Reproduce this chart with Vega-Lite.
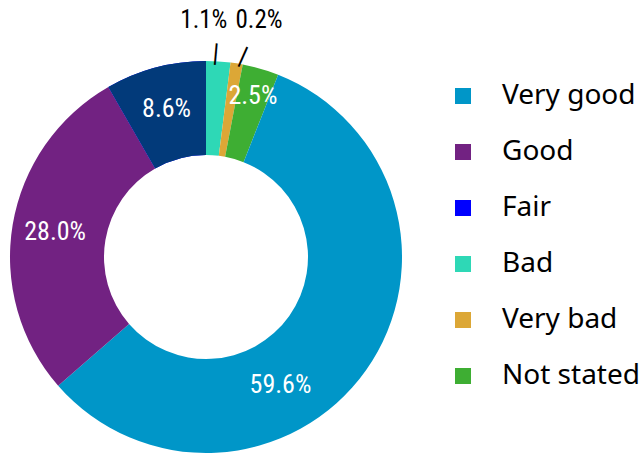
{
  "$schema": "https://vega.github.io/schema/vega-lite/v6.json",
  "width": 412,
  "height": 400,
  "autosize": "none",
  "padding": {"left": 0, "top": 57, "right": 228, "bottom": 0},
  "background": "white",
  "config": {"view": {"stroke": null}},
  "data": {"values": [
    {"cat": "Bad", "pct": 0.011, "share": 2.0},
    {"cat": "Very bad", "pct": 0.002, "share": 1.0},
    {"cat": "Not stated", "pct": 0.025, "share": 3.0},
    {"cat": "Very good", "pct": 0.596, "share": 57.6},
    {"cat": "Good", "pct": 0.28, "share": 28.1},
    {"cat": "Fair", "pct": 0.086, "share": 8.3}
  ]},
  "transform": [{"window": [{"op": "row_number", "as": "seq"}]}],
  "encoding": {
    "theta": {"field": "share", "type": "quantitative", "stack": true},
    "order": {"field": "seq", "type": "quantitative"}
  },
  "layer": [
    {
      "mark": {"type": "arc", "radius": 196, "radius2": 102},
      "encoding": {
        "color": {
          "field": "cat", "type": "nominal",
          "scale": {
            "domain": ["Very good", "Good", "Fair", "Bad", "Very bad", "Not stated"],
            "range": ["#0096c8", "#722282", "#0000ff", "#2ed8b6", "#dca736", "#3eae33"]
          },
          "legend": {
            "title": null,
            "orient": "none",
            "legendX": 449,
            "legendY": 25,
            "padding": 0,
            "symbolType": "square",
            "symbolSize": 256,
            "symbolStrokeWidth": 0,
            "labelFont": "Noto Sans",
            "labelFontSize": 28,
            "labelColor": "#000000",
            "labelOffset": 25,
            "rowPadding": 28
          }
        }
      }
    },
    {
      "mark": {"type": "arc", "radius": 196, "radius2": 102, "fill": "#023a7a"},
      "encoding": {
        "opacity": {"condition": {"test": "datum.cat === 'Fair'", "value": 1}, "value": 0}
      }
    },
    {
      "mark": {"type": "text", "radius": 153, "font": "Noto Sans Condensed, Roboto Condensed, Roboto", "fontSize": 26, "fill": "white"},
      "encoding": {
        "text": {"field": "pct", "type": "quantitative", "format": ".1%"},
        "opacity": {"condition": {"test": "datum.cat === 'Good' || datum.cat === 'Fair'", "value": 1}, "value": 0}
      }
    },
    {
      "mark": {"type": "text", "radius": 168, "font": "Noto Sans Condensed, Roboto Condensed, Roboto", "fontSize": 26, "fill": "white"},
      "encoding": {
        "text": {"field": "pct", "type": "quantitative", "format": ".1%"},
        "opacity": {"condition": {"test": "datum.cat === 'Not stated'", "value": 1}, "value": 0}
      }
    },
    {
      "mark": {"type": "text", "radius": 150, "dx": -48, "dy": 41, "font": "Noto Sans Condensed, Roboto Condensed, Roboto", "fontSize": 26, "fill": "white"},
      "encoding": {
        "text": {"field": "pct", "type": "quantitative", "format": ".1%"},
        "opacity": {"condition": {"test": "datum.cat === 'Very good'", "value": 1}, "value": 0}
      }
    },
    {
      "mark": {"type": "text", "radius": 237, "dx": -17, "font": "Noto Sans Condensed, Roboto Condensed, Roboto", "fontSize": 25, "fill": "black"},
      "encoding": {
        "text": {"field": "pct", "type": "quantitative", "format": ".1%"},
        "opacity": {"condition": {"test": "datum.cat === 'Bad'", "value": 1}, "value": 0}
      }
    },
    {
      "mark": {"type": "text", "radius": 237, "dx": 16, "dy": -3, "font": "Noto Sans Condensed, Roboto Condensed, Roboto", "fontSize": 25, "fill": "black"},
      "encoding": {
        "text": {"field": "pct", "type": "quantitative", "format": ".1%"},
        "opacity": {"condition": {"test": "datum.cat === 'Very bad'", "value": 1}, "value": 0}
      }
    },
    {
      "mark": {"type": "text", "text": "|", "radius": 204, "dx": -3, "angle": 5, "font": "Liberation Sans", "fontSize": 23, "fill": "black"},
      "encoding": {
        "opacity": {"condition": {"test": "datum.cat === 'Bad'", "value": 1}, "value": 0}
      }
    },
    {
      "mark": {"type": "text", "text": "|", "radius": 204, "dx": 5, "dy": -2, "angle": 24, "font": "Liberation Sans", "fontSize": 23, "fill": "black"},
      "encoding": {
        "opacity": {"condition": {"test": "datum.cat === 'Very bad'", "value": 1}, "value": 0}
      }
    }
  ]
}
